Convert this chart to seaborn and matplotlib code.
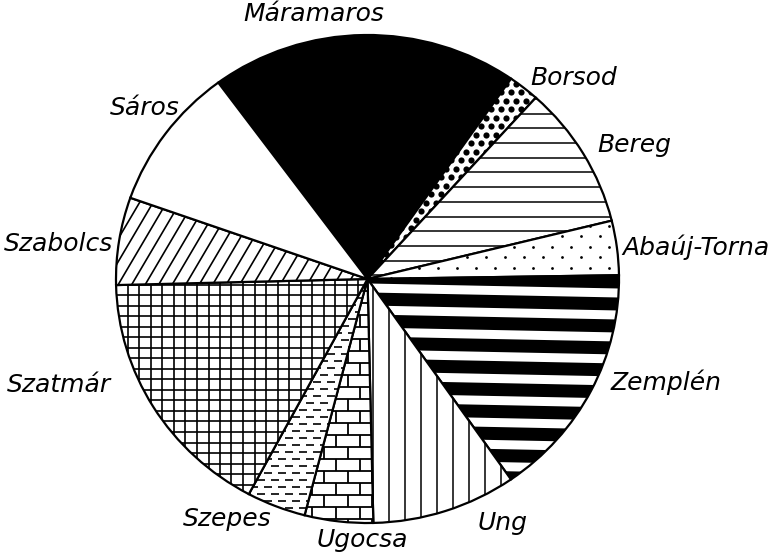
import numpy as np
import matplotlib
matplotlib.use("Agg")
import matplotlib.pyplot as plt
import seaborn as sns
from matplotlib.collections import LineCollection

# County shares (percent) in clockwise order, starting at the top-left
counties = ["Máramaros", "Borsod", "Bereg", "Abaúj-Torna", "Zemplén", "Ung",
            "Ugocsa", "Szepes", "Szatmár", "Szabolcs", "Sáros"]
shares = [19.8, 2.0, 9.5, 3.6, 15.6, 9.3, 4.4, 3.8, 16.8, 5.8, 9.5]

# Label anchor points in pixels (x from left, y from top)
label_px = [(314, 14), (574, 78), (634, 145), (696, 247), (666, 382), (503, 523),
            (362, 540), (227, 519), (59, 385), (58, 244), (145, 108)]

sns.set_theme(style="white")
plt.rcParams["font.family"] = ["DejaVu Sans"]

W, H, DPI = 781, 553, 100
fig = plt.figure(figsize=(W / DPI, H / DPI), dpi=DPI)
fig.patch.set_facecolor("white")
ax = fig.add_axes([0, 0, 1, 1])

# pie geometry in pixels: centre (from left / from bottom) and radii
CX, CY = 367.5, 274.0
RX, RY = 251.5, 244.0

wedges, _ = ax.pie(shares, startangle=126.4, counterclock=False,
                   colors=["white"] * len(shares),
                   wedgeprops=dict(edgecolor="black", linewidth=1.6))
ax.set_aspect("auto")
ax.set_xlim(-CX / RX, (W - CX) / RX)
ax.set_ylim(-CY / RY, (H - CY) / RY)
ax.axis("off")


def to_data(px, py):
    """pixel coordinates (y from bottom) -> data coordinates"""
    return (np.asarray(px) - CX) / RX, (np.asarray(py) - CY) / RY


def seg_collection(segs_px, wedge, lw=1.1, capstyle="butt"):
    segs = []
    for (x0, y0), (x1, y1) in segs_px:
        a = to_data([x0, x1], [y0, y1])
        segs.append(np.column_stack(a))
    lc = LineCollection(segs, colors="black", linewidths=lw, capstyle=capstyle, zorder=3)
    ax.add_collection(lc)
    lc.set_clip_path(wedge)
    return lc


def dots(points_px, wedge, size):
    pts = np.array(points_px)
    x, y = to_data(pts[:, 0], pts[:, 1])
    sc = ax.scatter(x, y, s=size, color="black", linewidths=0, zorder=3)
    sc.set_clip_path(wedge)


x_lo, x_hi = CX - RX - 20, CX + RX + 20
y_lo, y_hi = CY - RY - 20, CY + RY + 20
w = dict(zip(counties, wedges))

# Máramaros: solid black
w["Máramaros"].set_facecolor("black")

# Borsod: large dots on a staggered grid
pts = []
for j, yy in enumerate(np.arange(y_lo, y_hi, 8.5)):
    off = 5.0 if j % 2 else 0.0
    for xx in np.arange(x_lo + off, x_hi, 10.0):
        pts.append((xx, yy))
dots(pts, w["Borsod"], 20)

# Bereg: horizontal rules
seg_collection([((x_lo, yy), (x_hi, yy)) for yy in np.arange(y_lo + 3, y_hi, 14.7)],
               w["Bereg"])

# Abaúj-Torna: sparse small dots
pts = []
for j, yy in enumerate(np.arange(y_lo + 2, y_hi, 10.5)):
    off = 9.5 if j % 2 else 0.0
    for xx in np.arange(x_lo + off, x_hi, 19.0):
        pts.append((xx, yy))
dots(pts, w["Abaúj-Torna"], 4)

# Zemplén: thick black bands, slightly tilted
bands = []
top_at_edge = H - 282.0
for k in range(30):
    yc = top_at_edge - k * 22.0
    bands.append(((CX - 60, yc + 0.02 * (CX + RX - (CX - 60))), (CX + RX + 20, yc - 0.02 * 20)))
seg_collection(bands, w["Zemplén"], lw=13 * 0.72)

# Ung: vertical rules
seg_collection([((xx, y_lo), (xx, y_hi)) for xx in np.arange(CX + 5.5, x_hi, 16.0)],
               w["Ung"])

# Ugocsa: brickwork
segs = []
rows = np.arange(y_lo, y_hi, 12.0)
for j, yy in enumerate(rows):
    segs.append(((x_lo, yy), (x_hi, yy)))
    off = 12.0 if j % 2 else 0.0
    for xx in np.arange(x_lo + off, x_hi, 24.0):
        segs.append(((xx, yy), (xx, yy + 12.0)))
seg_collection(segs, w["Ugocsa"], lw=1.3)

# Szepes: short dashes
segs = []
for j, yy in enumerate(np.arange(y_lo, y_hi, 7.0)):
    off = 7.0 if j % 2 else 0.0
    for xx in np.arange(x_lo + off, x_hi, 14.0):
        segs.append(((xx, yy), (xx + 7.5, yy)))
seg_collection(segs, w["Szepes"], lw=1.2)

# Szatmár: square grid
segs = [((xx, y_lo), (xx, y_hi)) for xx in np.arange(CX - RX + 0.5, x_hi, 11.5)]
segs += [((x_lo, yy), (x_hi, yy)) for yy in np.arange(H - 285.0, y_lo, -10.5)]
seg_collection(segs, w["Szatmár"], lw=1.2)

# Szabolcs: diagonal rules
ang = np.deg2rad(59.5)
dx, dy = np.cos(ang), np.sin(ang)
segs = []
for x0 in np.arange(x_lo - 400, x_hi, 13.5):
    segs.append(((x0, y_lo), (x0 + dx / dy * (y_hi - y_lo), y_hi)))
seg_collection(segs, w["Szabolcs"], lw=1.2)

# labels
for name, (lx, ly) in zip(counties, label_px):
    x, y = to_data(lx, H - ly)
    ax.text(x, y, name, fontsize=18, fontstyle="italic", ha="center", va="center",
            color="black", zorder=5)

fig.savefig("out.png", dpi=DPI, facecolor="white")
